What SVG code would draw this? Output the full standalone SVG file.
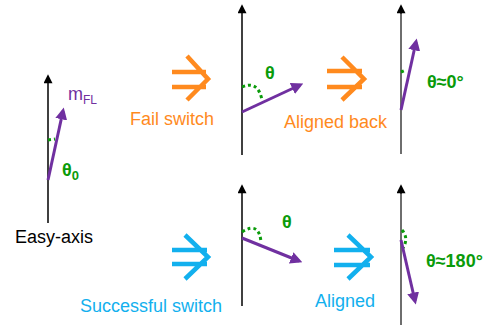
<svg xmlns="http://www.w3.org/2000/svg" width="496" height="331" viewBox="0 0 496 331">
  <style>
    text { font-family: "Liberation Sans", Arial, sans-serif; }
    .lbl { font-size: 18px; }
    .orange { fill: #FF8A1E; }
    .blue { fill: #12B0EE; }
    .ang { font-size: 18px; font-weight: bold; fill: #0A9B0A; }
    .axis { stroke: #000; stroke-width: 1.5; fill: none; }
    .axis-g { stroke: #6E6E6E; stroke-width: 2; fill: none; }
    .mag { stroke: #7030A0; stroke-width: 3; fill: none; marker-end: url(#magHead); }
    .arc { stroke: #0A9B0A; stroke-width: 3; stroke-dasharray: 3 3; fill: none; }
    .imp-o { stroke: #FF8A1E; stroke-width: 4.5; fill: none; }
    .imp-b { stroke: #12B0EE; stroke-width: 4.5; fill: none; }
  </style>
  <defs>
    <marker id="axisHead" viewBox="0 0 10 10" refX="8" refY="5" markerWidth="11" markerHeight="9" markerUnits="userSpaceOnUse" orient="auto">
      <path d="M0,0 L10,5 L0,10 Z" fill="#000"/>
    </marker>
    <marker id="magHead" viewBox="0 0 10 10" refX="7" refY="5" markerWidth="4" markerHeight="4" orient="auto">
      <path d="M0,0 L10,5 L0,10 Z" fill="#7030A0"/>
    </marker>
  </defs>

  <!-- initial state -->
  <g id="initial">
    <line class="axis" x1="48" y1="223" x2="48" y2="76" marker-end="url(#axisHead)"/>
    <path class="arc" d="M48,140 L55,139"/>
    <line class="mag" x1="48" y1="180" x2="63" y2="111"/>
    <text x="68" y="100" font-size="18" fill="#7030A0">m<tspan font-size="12" dy="4">FL</tspan></text>
    <text class="ang" x="62" y="176">θ<tspan font-size="13" dy="4">0</tspan></text>
    <text class="lbl" x="15" y="243" fill="#000">Easy-axis</text>
  </g>

  <!-- top row: failed switch -->
  <g id="fail-step">
    <path class="imp-o" d="M172,72 H206 M172,87 H206 M187,56 L208,79 L187,100"/>
    <text class="lbl orange" x="130" y="125">Fail switch</text>
  </g>
  <g id="fail-state">
    <line class="axis" x1="242" y1="155" x2="242" y2="6" marker-end="url(#axisHead)"/>
    <path class="arc" d="M242,87 Q258,80 262,100"/>
    <line class="mag" x1="242" y1="112" x2="300" y2="85"/>
    <text class="ang" x="265" y="79">θ</text>
  </g>
  <g id="back-step">
    <path class="imp-o" d="M327,71 H362 M327,87 H362 M342,57 L364,79 L342,100"/>
    <text class="lbl orange" x="284" y="128">Aligned back</text>
  </g>
  <g id="back-state">
    <line class="axis-g" x1="401" y1="154" x2="401" y2="14"/>
    <line class="axis" x1="401" y1="14" x2="401" y2="6" marker-end="url(#axisHead)"/>
    <path class="arc" d="M401,72 L406,70"/>
    <line class="mag" x1="401" y1="110" x2="416" y2="42"/>
    <text class="ang" x="427" y="88">θ≈0°</text>
  </g>

  <!-- bottom row: successful switch -->
  <g id="success-step">
    <path class="imp-b" d="M172,250 H207 M172,264 H207 M185,235 L208,257 L185,279"/>
    <text class="lbl blue" x="80" y="312">Successful switch</text>
  </g>
  <g id="success-state">
    <line class="axis" x1="242" y1="306" x2="242" y2="186" marker-end="url(#axisHead)"/>
    <path class="arc" d="M242,232 Q259,221 261,242"/>
    <line class="mag" x1="242" y1="238" x2="299" y2="261"/>
    <text class="ang" x="282" y="228">θ</text>
  </g>
  <g id="aligned-step">
    <path class="imp-b" d="M334,250 H370 M334,265 H370 M348,235 L371,257 L348,279"/>
    <text class="lbl blue" x="315" y="307">Aligned</text>
  </g>
  <g id="aligned-state">
    <line class="axis-g" x1="401" y1="325" x2="401" y2="194"/>
    <line class="axis" x1="401" y1="194" x2="401" y2="186" marker-end="url(#axisHead)"/>
    <path class="arc" d="M402,230 Q409,238 403,248"/>
    <line class="mag" x1="401" y1="240" x2="415" y2="301"/>
    <text class="ang" x="426" y="267">θ≈180°</text>
  </g>
</svg>
